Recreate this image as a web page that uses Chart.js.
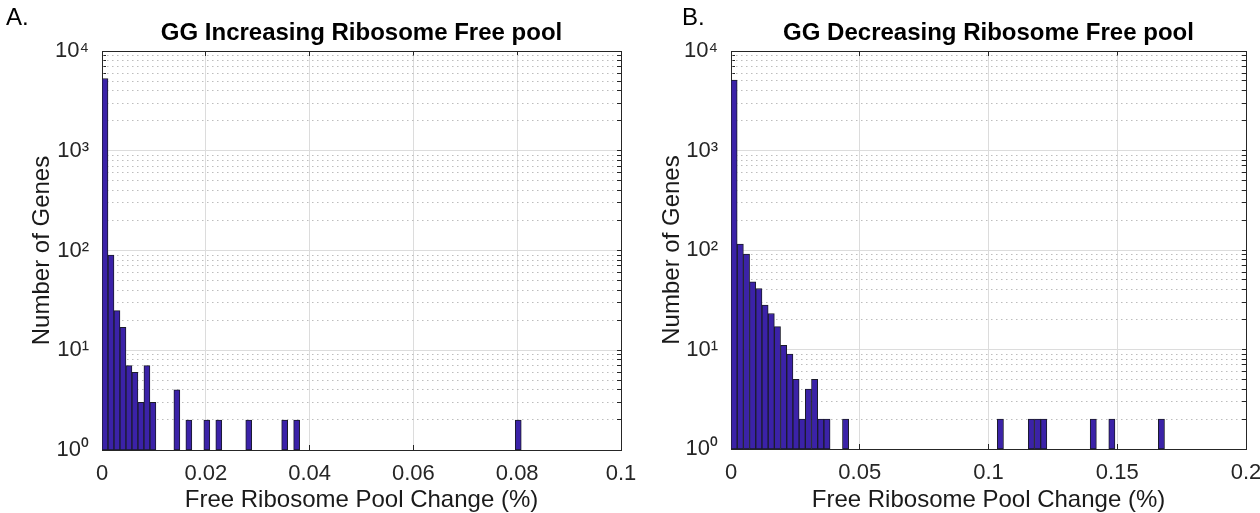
<!DOCTYPE html>
<html>
<head>
<meta charset="utf-8">
<script src="https://cdn.jsdelivr.net/npm/chart.js@4.4.1/dist/chart.umd.min.js"></script>
<style>
html, body { margin: 0; padding: 0; background: #ffffff; overflow: hidden; width: 1260px; height: 513px; }
.wrap { position: absolute; top: 0; width: 660px; height: 513px; }
.panel { position: absolute; font-family: "Liberation Sans", Arial, sans-serif; font-size: 24px; line-height: 24px; color: #000; }
</style>
</head>
<body>
<div class="wrap" style="left:0px"><canvas id="chartA" width="660" height="513"></canvas></div>
<div class="wrap" style="left:630px"><canvas id="chartB" width="660" height="513"></canvas></div>
<div class="panel" style="left:6px; top:5px;">A.</div>
<div class="panel" style="left:682px; top:5px;">B.</div>
<script>
// ---------------- data ----------------
const titleA = 'GG Increasing Ribosome Free pool';
const titleB = 'GG Decreasing Ribosome Free pool';
const xAxisLabel = 'Free Ribosome Pool Change (%)';
const yAxisLabel = 'Number of Genes';

// Panel A histogram: 70 bins of equal width, only non-empty bins listed
const binWidthA = 0.001154;
const binIndexA = [0, 1, 2, 3, 4, 5, 6, 7, 8, 12, 14, 17, 19, 24, 30, 32, 69];
const countsA   = [5300, 90, 25, 17, 7, 6, 3, 7, 3, 4, 2, 2, 2, 2, 2, 2, 2];

// Panel B histogram
const binWidthB = 0.002405;
const binIndexB = [0, 1, 2, 3, 4, 5, 6, 7, 8, 9, 10, 11, 12, 13, 14, 15, 18, 43, 48, 49, 50, 58, 61, 69];
const countsB   = [5100, 115, 91, 48, 41, 28, 23, 17, 11, 9, 5, 2, 4, 5, 2, 2, 2, 2, 2, 2, 2, 2, 2, 2];

// Axis ticks
const xMaxA = 0.1;
const xTicksA = [0, 0.02, 0.04, 0.06, 0.08, 0.1];
const xTickLabelsA = ['0', '0.02', '0.04', '0.06', '0.08', '0.1'];
const xMaxB = 0.2;
const xTicksB = [0, 0.05, 0.1, 0.15, 0.2];
const xTickLabelsB = ['0', '0.05', '0.1', '0.15', '0.2'];

const yMin = 1, yMax = 10000;
const yMajorTicks = [1, 10, 100, 1000, 10000];
const yTickLabels = ['10\u2070', '10\u00B9', '10\u00B2', '10\u00B3', '10\u2074'];
const yMinorMultipliers = [2, 3, 4, 5, 6, 7, 8, 9];

// ---------------- styling ----------------
const FONT = '"Liberation Sans", Arial, Helvetica, sans-serif';
const AXIS_COLOR = '#262626';
const MAJOR_GRID = '#dcdcdc';
const MINOR_GRID = '#bdbdbd';
const BAR_FILL = '#3b22a8';
const BAR_EDGE = '#1b1b2a';

function allYTicks() {
  const t = [];
  for (let k = 0; k < yMajorTicks.length; k++) {
    t.push({ value: yMajorTicks[k], major: true });
    if (k < yMajorTicks.length - 1) {
      yMinorMultipliers.forEach(m => t.push({ value: m * yMajorTicks[k], major: false }));
    }
  }
  return t;
}

function makeChart(id, opts) {
  const data = opts.binIndex.map((b, i) => ({ x: (b + 0.5) * opts.binWidth, y: opts.counts[i] }));
  const isBound = v => v === yMin || v === yMax;
  return new Chart(document.getElementById(id), {
    type: 'bar',
    data: {
      datasets: [{
        data: data,
        backgroundColor: BAR_FILL,
        borderColor: BAR_EDGE,
        borderWidth: 1,
        borderSkipped: false,
        barPercentage: 1,
        categoryPercentage: 1,
        xAxisID: 'x',
        yAxisID: 'y'
      }]
    },
    options: {
      responsive: false,
      animation: false,
      devicePixelRatio: 1,
      layout: { padding: { left: 0, right: opts.padRight, top: 0, bottom: 0 } },
      plugins: {
        legend: { display: false },
        tooltip: { enabled: false },
        title: {
          display: true,
          text: opts.title,
          fullSize: false,
          color: '#000',
          font: { family: FONT, size: 24, weight: 'bold', lineHeight: 1.2 },
          padding: { top: 19, bottom: 3.2 }
        }
      },
      scales: {
        x: {
          type: 'linear', position: 'bottom', min: 0, max: opts.xMax, offset: false,
          afterBuildTicks: s => { s.ticks = opts.xTicks.map(v => ({ value: v })); },
          afterFit: s => { s.height = opts.xAxisHeight; },
          ticks: {
            autoSkip: false, maxRotation: 0, minRotation: 0, padding: 18,
            color: AXIS_COLOR, font: { family: FONT, size: 22, lineHeight: 1 },
            callback: (v, i) => opts.xTickLabels[i]
          },
          grid: {
            offset: false,
            color: ctx => (ctx.tick && (ctx.tick.value === 0 || ctx.tick.value === opts.xMax)) ? 'rgba(0,0,0,0)' : MAJOR_GRID,
            lineWidth: 1, drawTicks: true, tickLength: -5, tickColor: AXIS_COLOR, tickWidth: 1
          },
          border: { display: true, color: AXIS_COLOR, width: 1 },
          title: {
            display: true, text: xAxisLabel, color: '#1a1a1a',
            font: { family: FONT, size: 24, lineHeight: 1 },
            padding: { top: 0, bottom: 1 }
          }
        },
        x2: {
          type: 'linear', position: 'top', min: 0, max: opts.xMax, offset: false,
          afterBuildTicks: s => { s.ticks = opts.xTicks.map(v => ({ value: v })); },
          afterFit: s => { s.height = 0; },
          ticks: { display: false, autoSkip: false },
          grid: { offset: false, drawOnChartArea: false, drawTicks: true, tickLength: -5, tickColor: AXIS_COLOR },
          border: { display: true, color: AXIS_COLOR, width: 1 }
        },
        y: {
          type: 'logarithmic', position: 'left', min: yMin, max: yMax,
          afterBuildTicks: s => { s.ticks = allYTicks(); },
          afterFit: s => { s.width = opts.yAxisWidth; },
          ticks: {
            autoSkip: false, padding: 17,
            color: AXIS_COLOR, font: { family: FONT, size: 22, lineHeight: 1 },
            callback: v => { const k = yMajorTicks.indexOf(v); return k >= 0 ? yTickLabels[k] : ''; }
          },
          grid: {
            color: ctx => (ctx.tick && ctx.tick.major && !isBound(ctx.tick.value)) ? MAJOR_GRID : 'rgba(0,0,0,0)',
            lineWidth: 1, drawTicks: true, tickLength: -4, tickColor: AXIS_COLOR
          },
          border: { display: true, color: AXIS_COLOR, width: 1 },
          title: {
            display: true, text: yAxisLabel, color: '#1a1a1a',
            font: { family: FONT, size: 24, lineHeight: 1 },
            padding: { top: 30, bottom: 0 }
          }
        },
        yMinor: {
          type: 'logarithmic', position: 'left', min: yMin, max: yMax,
          afterBuildTicks: s => { s.ticks = allYTicks(); },
          afterFit: s => { s.width = 0; },
          ticks: { display: false, autoSkip: false },
          grid: {
            color: ctx => (ctx.tick && !ctx.tick.major) ? MINOR_GRID : 'rgba(0,0,0,0)',
            lineWidth: 1, drawTicks: false
          },
          border: { display: false, dash: [1.5, 3.5] }
        },
        y2: {
          type: 'logarithmic', position: 'right', min: yMin, max: yMax,
          afterBuildTicks: s => { s.ticks = allYTicks(); },
          afterFit: s => { s.width = 0; },
          ticks: { display: false, autoSkip: false },
          grid: { drawOnChartArea: false, drawTicks: true, tickLength: -4, tickColor: AXIS_COLOR },
          border: { display: true, color: AXIS_COLOR, width: 1 }
        }
      }
    }
  });
}

makeChart('chartA', {
  title: titleA, binWidth: binWidthA, binIndex: binIndexA, counts: countsA,
  xMax: xMaxA, xTicks: xTicksA, xTickLabels: xTickLabelsA,
  yAxisWidth: 102, xAxisHeight: 63, padRight: 39
});
makeChart('chartB', {
  title: titleB, binWidth: binWidthB, binIndex: binIndexB, counts: countsB,
  xMax: xMaxB, xTicks: xTicksB, xTickLabels: xTickLabelsB,
  yAxisWidth: 101, xAxisHeight: 64, padRight: 44
});
</script>
</body>
</html>
